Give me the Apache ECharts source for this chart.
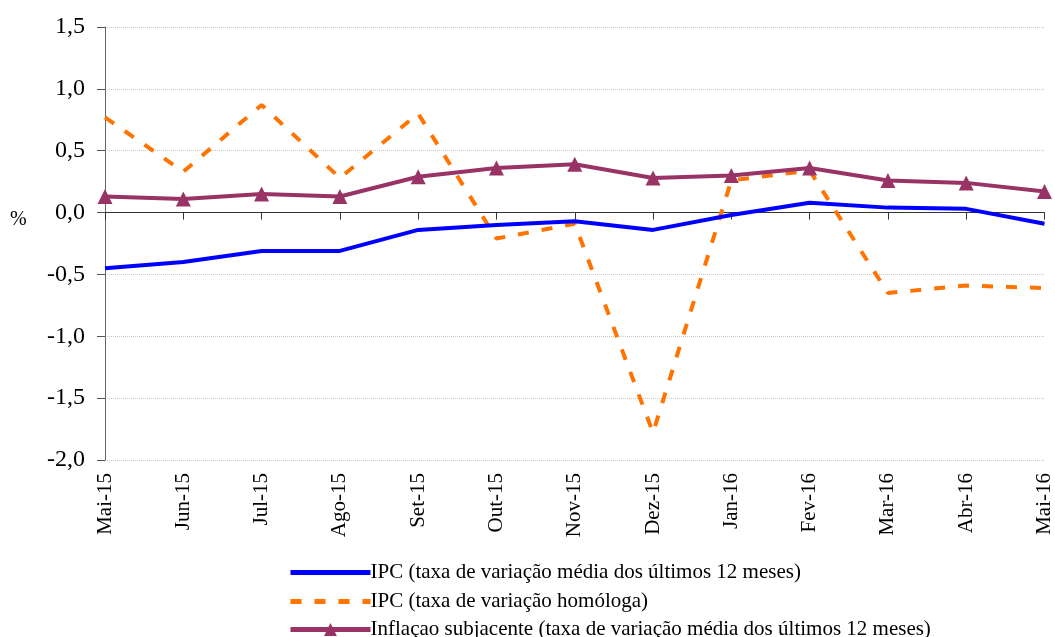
<!DOCTYPE html>
<html><head><meta charset="utf-8">
<script src="https://cdn.jsdelivr.net/npm/echarts@6/dist/echarts.min.js"></script>
<style>html,body{margin:0;padding:0;background:#fff}#c{width:1055px;height:637px}</style>
</head><body><div id="c"></div>
<script>
const categories = ['Mai-15','Jun-15','Jul-15','Ago-15','Set-15','Out-15','Nov-15','Dez-15','Jan-16','Fev-16','Mar-16','Abr-16','Mai-16'];
const ipcMedia = [-0.45,-0.40,-0.31,-0.31,-0.14,-0.10,-0.07,-0.14,-0.02,0.08,0.04,0.03,-0.09];
const ipcHomologa = [0.77,0.33,0.87,0.28,0.80,-0.21,-0.09,-1.78,0.26,0.34,-0.65,-0.59,-0.61];
const inflSubj = [0.13,0.11,0.15,0.13,0.29,0.36,0.39,0.28,0.30,0.36,0.26,0.24,0.17];
const seriesNames = ['IPC (taxa de variação média dos últimos 12 meses)','IPC (taxa de variação homóloga)','Inflaçao subjacente (taxa de variação média dos últimos 12 meses)'];
const yTicks = {min:-2, max:1.5, interval:0.5};
const font = '"Liberation Serif","Times New Roman",serif';

const legendCenters = [568, 597, 625];
const legendColors = ['#0000ff','#ff7300','#993366'];
const legends = seriesNames.map((n,i)=>({
  orient:'horizontal',left:283,top:legendCenters[i]-11,itemWidth:80,itemHeight:16,itemGap:5,
  textStyle:{fontFamily:font,fontSize:21,color:'#000',padding:[0,0,0,-5]},data:[n],
  lineStyle:{width:5},
  itemStyle: i<2 ? {opacity:0} : {color:legendColors[i]}
}));

const chart = echarts.init(document.getElementById('c'));
chart.setOption({
  animation:false,
  grid:{left:105,right:7,top:27,bottom:177,containLabel:false},
  graphic:[{type:'text',left:10,top:210,style:{text:'%',font:'20px '+font,fill:'#000'}}],
  legend:legends,
  xAxis:[{type:'category',data:categories,boundaryGap:false,position:'bottom',
      axisLine:{show:false,onZero:false},axisTick:{show:false},
      axisLabel:{rotate:90,fontFamily:font,fontSize:21,color:'#000',margin:13,interval:0}},
    {type:'category',data:categories,boundaryGap:false,gridIndex:0,position:'bottom',
      axisLine:{show:true,onZero:true,lineStyle:{color:'#333',width:1}},
      axisTick:{show:true,inside:false,length:7,interval:0,alignWithLabel:true,lineStyle:{color:'#333'}},
      axisLabel:{show:false}}],
  yAxis:{type:'value',min:yTicks.min,max:yTicks.max,interval:yTicks.interval,
    axisLine:{show:true,lineStyle:{color:'#666',width:1}},
    axisTick:{show:true,length:8,lineStyle:{color:'#555'}},
    splitLine:{show:true,lineStyle:{color:'#c8c8c8',type:'dotted',width:1}},
    axisLabel:{fontFamily:font,fontSize:24,color:'#000',margin:20,
      formatter:v=>v.toFixed(1).replace('.',',')}},
  series:[
    {name:seriesNames[0],type:'line',data:ipcMedia,symbol:'none',z:3,
      lineStyle:{color:'#0000ff',width:4},itemStyle:{color:'#0000ff'}},
    {name:seriesNames[1],type:'line',data:ipcHomologa,symbol:'none',z:2,
      lineStyle:{color:'#ff7300',width:4,type:[11,13]},itemStyle:{color:'#ff7300'}},
    {name:seriesNames[2],type:'line',data:inflSubj,symbol:'triangle',symbolSize:15,z:4,
      lineStyle:{color:'#993366',width:4},itemStyle:{color:'#993366'}}
  ]
});
</script></body></html>
